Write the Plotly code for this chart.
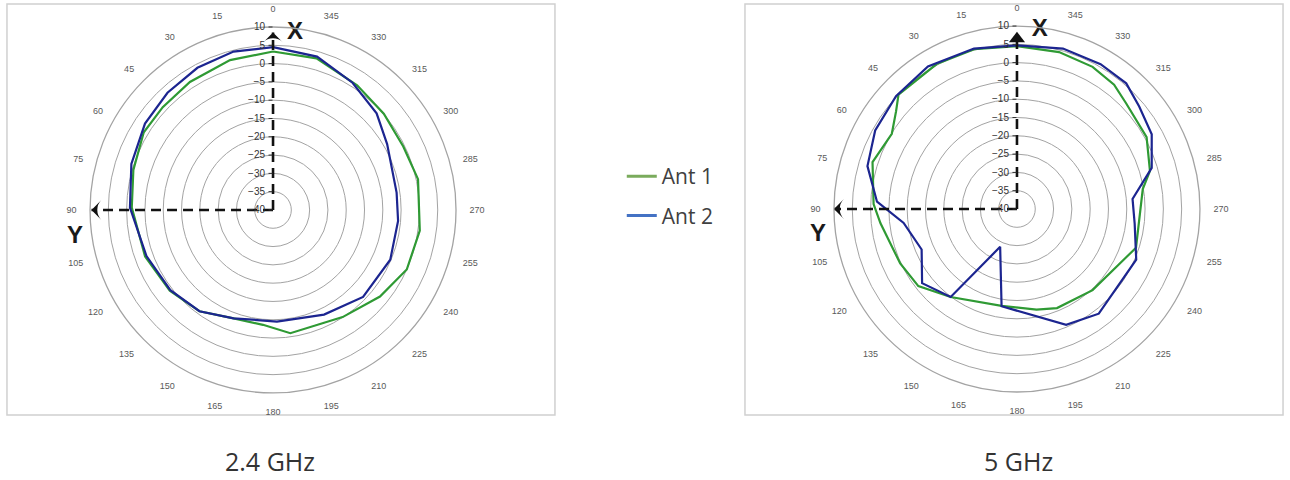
import math
import plotly.graph_objects as go

# ---------------- data ----------------
ANGLE_TICKS = list(range(0, 360, 15))
ANGLE_LABELS = [str(a) for a in ANGLE_TICKS]
RADIAL_TICKS = list(range(-40, 11, 5))
RADIAL_RANGE = [-40, 10]

# 2.4 GHz
ant1_24_theta = [0, 16, 33, 47, 59, 74, 89, 110, 128, 144, 160, 175, 188, 213, 231, 246, 262, 282, 296, 311, 326, 344]
ant1_24_r = [3.3, 2.6, 1.7, 1.2, 1.2, -0.3, -1.4, -2.8, -4.2, -5.8, -8.5, -8.5, -6.0, -5.1, -2.4, 0.0, 0.5, 0.5, -0.4, 0.1, 1.1, 3.1]
ant2_24_theta = [0, 14, 28, 42, 56, 72, 89, 110, 128, 144, 160, 182, 206, 226, 247, 265, 278, 300, 313, 328, 344]
ant2_24_r = [4.5, 4.6, 4.0, 3.1, 2.2, 0.7, -0.9, -3.2, -4.4, -5.8, -8.5, -9.5, -8.2, -5.8, -5.2, -5.7, -5.9, -4.0, -1.3, 1.0, 3.6]

# 5 GHz
ant1_5_theta = [0, 15, 29, 46, 51, 59, 72, 88, 96, 115, 128, 143, 171, 191, 202, 223, 246, 252, 279, 286, 299, 314, 322, 332, 345]
ant1_5_r = [4.5, 5.2, 5.3, 5.0, 2.5, -0.1, 1.5, -0.8, -2.5, -4.8, -5.8, -9.9, -13.2, -12.0, -10.8, -9.7, -7.4, -5.8, -5.2, -2.2, 0.5, 1.5, 3.1, 4.0, 4.4]
ant2_5_theta = [0, 15, 32, 47, 61, 74, 87, 97, 113, 128, 143, 156, 171, 203, 218, 247, 263, 275, 287, 299, 310, 319, 330, 344]
ant2_5_r = [4.7, 5.4, 5.9, 5.2, 4.3, 2.5, -1.7, -8.8, -11.7, -7.1, -9.9, -28.7, -13.1, -5.6, -3.7, -4.6, -7.6, -8.3, -1.5, 2.1, 3.6, 5.5, 5.7, 5.6]

# axis-direction markers drawn on the charts (X up, Y left)
x_dir_theta = [0, 0]
y_dir_theta = [90, 90]
dir_r_24 = {"x": [-40, 8.5], "y": [-40, 9.6]}
dir_r_5 = {"x": [-40, 6.5], "y": [-40, 10.0]}
label_24 = {"X": (352.9, 8.7), "Y": (97.2, 14.5)}
label_5 = {"X": (352.7, 9.2), "Y": (96.8, 14.8)}

SERIES_NAMES = ["Ant 1", "Ant 2"]
LINE_COLORS = ["#2f9a34", "#1c2590"]
LEGEND_COLORS = ["#7aab5c", "#4472c4"]
PANEL_TITLES = ["2.4 GHz", "5 GHz"]

W, H = 1290, 480
DOM1 = dict(x=[0.0698, 0.3535], y=[0.1813, 0.9438])
DOM2 = dict(x=[0.6465, 0.9302], y=[0.1833, 0.9458])


def polar_to_paper(dom, theta, r):
    cx = (dom["x"][0] + dom["x"][1]) / 2 * W
    cy = (dom["y"][0] + dom["y"][1]) / 2 * H
    rad = (dom["x"][1] - dom["x"][0]) * W / 2
    rho = (r - RADIAL_RANGE[0]) / (RADIAL_RANGE[1] - RADIAL_RANGE[0]) * rad
    a = math.radians(90 + theta)
    return (cx + rho * math.cos(a)) / W, (cy + rho * math.sin(a)) / H


# ---------------- figure ----------------
fig = go.Figure()


def closed(theta, r):
    return list(theta) + [theta[0] + 360], list(r) + [r[0]]


panels = [
    ("polar", [(ant1_24_theta, ant1_24_r), (ant2_24_theta, ant2_24_r)], dir_r_24, label_24, "arrow-wide"),
    ("polar2", [(ant1_5_theta, ant1_5_r), (ant2_5_theta, ant2_5_r)], dir_r_5, label_5, "triangle-up"),
]

for sub, series, dirs, labels, up_symbol in panels:
    for (th, rr), color, name in zip(series, LINE_COLORS, SERIES_NAMES):
        t2, r2 = closed(th, rr)
        fig.add_trace(go.Scatterpolar(
            theta=t2, r=r2, mode="lines", subplot=sub, name=name,
            line=dict(color=color, width=2.2), showlegend=False,
        ))
    for th, key, sym, ang in [(x_dir_theta, "x", up_symbol, 0), (y_dir_theta, "y", "arrow-wide", -90)]:
        fig.add_trace(go.Scatterpolar(
            theta=th, r=dirs[key], mode="lines", subplot=sub, showlegend=False,
            line=dict(color="#111111", width=2.6, dash="10px,6px"), cliponaxis=False,
            hoverinfo="skip",
        ))
        fig.add_trace(go.Scatterpolar(
            theta=th[-1:], r=dirs[key][-1:], mode="markers", subplot=sub, showlegend=False,
            marker=dict(symbol=sym, size=14, color="#111111", angle=ang), cliponaxis=False,
            hoverinfo="skip",
        ))
    fig.add_trace(go.Scatterpolar(
        theta=[labels["X"][0]], r=[labels["X"][1]],
        mode="text", text=["<b>X</b>"], subplot=sub, showlegend=False,
        textfont=dict(size=24, color="#1a1a1a", family="Liberation Sans"), cliponaxis=False,
        hoverinfo="skip",
    ))

# legend entries
for i, (name, color) in enumerate(zip(SERIES_NAMES, LEGEND_COLORS)):
    fig.add_trace(go.Scatterpolar(
        theta=[None], r=[None], mode="lines", name=name, subplot="polar",
        line=dict(color=color, width=3), legendgroup=f"g{i}", showlegend=True,
    ))

ang_axis = dict(
    rotation=90, direction="counterclockwise", tickmode="array",
    tickvals=ANGLE_TICKS, ticktext=ANGLE_LABELS, showgrid=False,
    showline=True, linecolor="#a3a3a3", linewidth=1.3,
    ticks="outside", ticklen=11, tickcolor="rgba(0,0,0,0)",
    tickfont=dict(size=9, color="#595959", family="Liberation Sans"),
)
rad_axis = dict(
    range=RADIAL_RANGE, tickmode="array", tickvals=RADIAL_TICKS, angle=90,
    side="counterclockwise", showgrid=True, gridcolor="#a3a3a3", gridwidth=1.3,
    showline=False, ticks="outside", ticklen=4, tickcolor="#333333",
    tickfont=dict(size=10, color="#333333", family="Liberation Sans"), tickangle=90,
)

annotations = []
for title, cx in zip(PANEL_TITLES, [270, 1018]):
    annotations.append(dict(text=title, x=cx / W, y=(H - 461) / H, xref="paper", yref="paper",
                            xanchor="center", yanchor="middle", showarrow=False,
                            font=dict(size=25, color="#333333", family="Open Sans")))
for dom, labels in [(DOM1, label_24), (DOM2, label_5)]:
    px, py = polar_to_paper(dom, *labels["Y"])
    annotations.append(dict(text="<b>Y</b>", x=px, y=py, xref="paper", yref="paper",
                            xanchor="center", yanchor="middle", showarrow=False,
                            font=dict(size=24, color="#1a1a1a", family="Liberation Sans")))

fig.update_layout(
    width=W, height=H, margin=dict(l=0, r=0, t=0, b=0),
    paper_bgcolor="white", plot_bgcolor="white",
    polar=dict(domain=DOM1, bgcolor="white", angularaxis=ang_axis, radialaxis=rad_axis),
    polar2=dict(domain=DOM2, bgcolor="white", angularaxis=ang_axis, radialaxis=rad_axis),
    showlegend=True,
    legend=dict(x=0.482, y=0.675, xanchor="left", yanchor="top",
                font=dict(size=21, color="#404040", family="Open Sans"),
                traceorder="grouped", tracegroupgap=9, bgcolor="rgba(0,0,0,0)"),
    shapes=[
        dict(type="rect", xref="paper", yref="paper", x0=0.0054, x1=0.4302, y0=0.1354, y1=0.9917,
             line=dict(color="#d0d0d0", width=1.5), layer="below"),
        dict(type="rect", xref="paper", yref="paper", x0=0.5775, x1=0.9946, y0=0.1354, y1=0.9917,
             line=dict(color="#d0d0d0", width=1.5), layer="below"),
    ],
    annotations=annotations,
)

fig.write_html("out.html", config={"displayModeBar": False},
               post_script="document.body.style.margin='0px';")
